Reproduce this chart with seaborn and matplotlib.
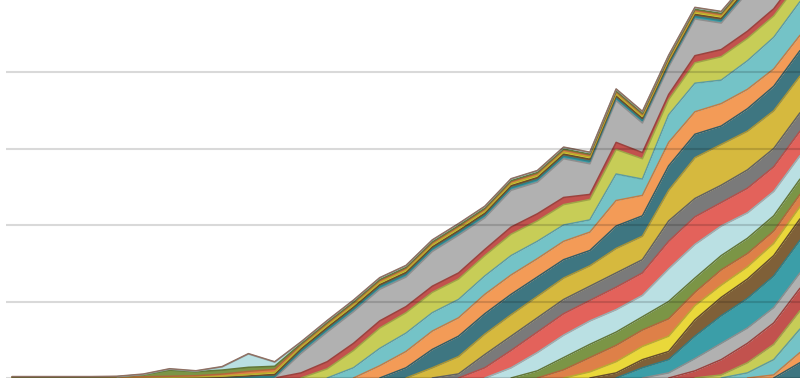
import numpy as np
import matplotlib
matplotlib.use("Agg")
import matplotlib.pyplot as plt
from matplotlib.ticker import MultipleLocator
import seaborn as sns

# 31 periods along the x axis
periods = list(range(31))

# stacked bands, bottom (newest) to top (oldest); each row: t0-9 / t10-19 / t20-30
band_00 = [0, 0, 0, 0, 0, 0, 0, 0, 0, 0,
           0, 0, 0, 0, 0, 0, 0, 0, 0, 0,
           0, 0, 0, 0, 0, 0, 0, 0, 0, 0, 15]
band_01 = [0, 0, 0, 0, 0, 0, 0, 0, 0, 0,
           0, 0, 0, 0, 0, 0, 0, 0, 0, 0,
           0, 0, 0, 0, 0, 0, 0, 0, 0, 3, 10]
band_02 = [0, 0, 0, 0, 0, 0, 0, 0, 0, 0,
           0, 0, 0, 0, 0, 0, 0, 0, 0, 0,
           0, 0, 0, 0, 0, 0, 0, 0, 5, 15, 23]
band_03 = [0, 0, 0, 0, 0, 0, 0, 0, 0, 0,
           0, 0, 0, 0, 0, 0, 0, 0, 0, 0,
           0, 0, 0, 0, 0, 0, 0, 3, 10, 15, 18]
band_04 = [0, 0, 0, 0, 0, 0, 0, 0, 0, 0,
           0, 0, 0, 0, 0, 0, 0, 0, 0, 0,
           0, 0, 0, 0, 0, 0, 7, 15, 19, 21, 22]
band_05 = [0, 0, 0, 0, 0, 0, 0, 0, 0, 0,
           0, 0, 0, 0, 0, 0, 0, 0, 0, 0,
           0, 0, 0, 0, 0, 5, 12, 16, 15, 15, 15]
band_06 = [0, 0, 0, 0, 0, 0, 0, 0, 0, 0,
           0, 0, 0, 0, 0, 0, 0, 0, 0, 0,
           0, 0, 0, 0, 10, 13, 22, 27, 29, 31, 32]
band_07 = [0, 0, 0, 0, 0, 0, 0, 0, 0, 0,
           0, 0, 0, 0, 0, 0, 0, 0, 0, 0,
           0, 0, 0, 5, 8, 8, 16, 18, 19, 20, 21]
band_08 = [0, 0, 0, 0, 0, 0, 0, 0, 0, 0,
           0, 0, 0, 0, 0, 0, 0, 0, 0, 0,
           0, 0, 6, 11, 13, 15, 14, 12, 12, 12, 12]
band_09 = [0, 0, 0, 0, 0, 0, 0, 0, 0, 0,
           0, 0, 0, 0, 0, 0, 0, 0, 0, 0,
           0, 8, 14, 16, 16, 17, 13, 15, 13, 12, 12]
band_10 = [0, 0, 0, 0, 0, 0, 0, 0, 0, 0,
           0, 0, 0, 0, 0, 0, 0, 0, 0, 0,
           7, 12, 13, 13, 13, 17, 14, 14, 15, 15, 15]
band_11 = [0, 0, 0, 0, 0, 0, 0, 0, 0, 0,
           0, 0, 0, 0, 0, 0, 0, 0, 0, 10,
           18, 22, 23, 22, 21, 32, 33, 29, 25, 24, 23]
band_12 = [0, 0, 0, 0, 0, 0, 0, 0, 0, 0,
           0, 0, 0, 0, 0, 0, 0, 0, 10, 17,
           20, 21, 20, 22, 22, 27, 27, 23, 24, 24, 24]
band_13 = [0, 0, 0, 0, 0, 0, 0, 0, 0, 0,
           0, 0, 0, 0, 0, 0, 0, 4, 13, 14,
           14, 14, 14, 14, 13, 20, 18, 17, 18, 18, 18]
band_14 = [0, 0, 0, 0, 0, 0, 0, 0, 0, 0,
           0, 0, 0, 0, 0, 0, 10, 17, 20, 21,
           21, 21, 20, 24, 23, 30, 40, 40, 38, 37, 36]
band_15 = [0, 0, 0, 0, 0, 0, 0, 0, 0, 0,
           0, 0, 0, 0, 0, 10, 18, 20, 20, 20,
           19, 18, 15, 22, 20, 24, 23, 18, 22, 24, 25]
band_16 = [0, 0, 0, 0, 0, 0, 0, 0, 0, 0,
           0, 0, 0, 0, 12, 16, 18, 18, 19, 19,
           18, 18, 18, 25, 20, 23, 22, 22, 19, 17, 15]
band_17 = [0, 0, 0, 0, 0, 0, 0, 0, 0, 0,
           0, 0, 0, 10, 17, 18, 18, 18, 18, 19,
           17, 16, 12, 26, 16, 27, 28, 23, 28, 31, 33]
band_18 = [0, 0, 0, 0, 0, 0, 0, 0, 0, 0,
           0, 0, 9, 17, 20, 20, 20, 20, 20, 21,
           20, 20, 20, 24, 20, 15, 20, 23, 22, 21, 20]
band_19 = [0, 0, 0, 0, 0, 0, 0, 0, 0, 0,
           0, 5, 7, 7, 7, 6, 6, 6, 6, 7,
           7, 7, 5, 7, 6, 5, 7, 7, 7, 7, 7]
band_20 = [0, 0, 0, 0, 0, 0, 0, 0, 0, 0,
           0, 19, 29, 31, 31, 29, 34, 37, 31, 36,
           31, 38, 30, 41, 29, 27, 36, 26, 38, 40, 42]
band_21 = [0, 0, 0, 0, 0, 0, 0, 0, 0.3, 1,
           1.5, 2.5, 2.5, 2.5, 2.5, 2.5, 2.5, 2.5, 2.5, 2.5,
           2.5, 2.5, 2.5, 2.5, 2.5, 2.5, 2.5, 2.5, 2.5, 2.5, 2.5]
band_22 = [0, 0, 0, 0, 0, 0, 0, 0.3, 0.5, 1,
           2, 2, 2, 2, 2, 2, 2, 2, 2, 2,
           2, 2, 2, 2, 2, 2, 2, 2, 2, 2, 2]
band_23 = [0.5, 0.5, 0.5, 0.5, 0.5, 0.5, 0.7, 0.7, 1, 1.5,
           2, 2, 2, 2, 2, 2, 2, 2, 2, 2,
           2, 2, 2, 2, 2, 2, 2, 2, 2, 2, 2]
band_24 = [0.3, 0.3, 0.3, 0.3, 0.5, 0.7, 1, 1.2, 2, 3,
           3, 2, 2, 2, 2, 2, 2, 2, 2, 2,
           2, 2, 2, 2, 2, 2, 2, 2, 2, 2, 2]
band_25 = [0.2, 0.2, 0.2, 0.2, 0.3, 2, 6, 4, 4, 4,
           3, 1, 1, 1, 1, 1, 1, 1, 1, 1,
           1, 1, 1, 1, 1, 1, 1, 1, 1, 1, 1]
band_26 = [0, 0, 0, 0, 0, 0.3, 1, 0.5, 3, 13,
           4, 1.5, 1.5, 1.5, 1.5, 1.5, 1.5, 1.5, 1.5, 1.5,
           1.5, 1.5, 1.5, 1.5, 1.5, 1.5, 1.5, 1.5, 1.5, 1.5, 1.5]
band_27 = [0.4, 0.4, 0.4, 0.4, 0.4, 0.4, 0.4, 0.4, 0.4, 0.4,
           0.4, 0.4, 0.4, 0.4, 0.4, 0.4, 0.4, 0.4, 0.4, 0.4,
           0.4, 0.4, 0.4, 0.4, 0.4, 0.4, 0.4, 0.4, 0.4, 0.4, 0.4]

bands = [band_00, band_01, band_02, band_03, band_04, band_05, band_06,
         band_07, band_08, band_09, band_10, band_11, band_12, band_13,
         band_14, band_15, band_16, band_17, band_18, band_19, band_20,
         band_21, band_22, band_23, band_24, band_25, band_26, band_27]

# colour cycle, repeating every 15 bands
cycle = ['#3e7681', '#f39b57', '#74c3c7', '#c7cd57', '#c2524e',
         '#b1b1b1', '#3b9ea8', '#7f6038', '#e9d83a', '#de8048',
         '#7b9546', '#bae0e3', '#e3625b', '#7a7a7a', '#d6b93e']
top_colour = '#b48c7c'

sns.set_theme(style="white")
colours = sns.color_palette([cycle[i % 15] for i in range(len(bands) - 1)] + [top_colour])

fig = plt.figure(figsize=(8, 3.78), dpi=100)
ax = fig.add_axes([6 / 800, 0, 794 / 800, 1])

ax.stackplot(periods, bands, colors=colours, linewidth=0)

# darker edge along the top of every band
values = np.array(bands, dtype=float)
tops = np.cumsum(values, axis=0)
for vals, top, c in zip(values, tops, colours):
    nxt = np.r_[vals[1:], 0]
    prv = np.r_[0, vals[:-1]]
    keep = (vals > 0) | (nxt > 0) | (prv > 0)
    edge = tuple(v * 0.8 for v in c)
    ax.plot(periods, np.where(keep, top, np.nan), color=edge, lw=1.1)

ax.set_xlim(-0.23, 30)
ax.set_ylim(0, 370.6)
ax.yaxis.set_major_locator(MultipleLocator(75))
ax.grid(axis='y', color='black', alpha=0.15, lw=1.5)
ax.grid(axis='x', visible=False)
ax.set_axisbelow(False)
ax.tick_params(left=False, bottom=False, labelleft=False, labelbottom=False)
sns.despine(ax=ax, left=True, bottom=True)

fig.savefig('out.png', dpi=100)
